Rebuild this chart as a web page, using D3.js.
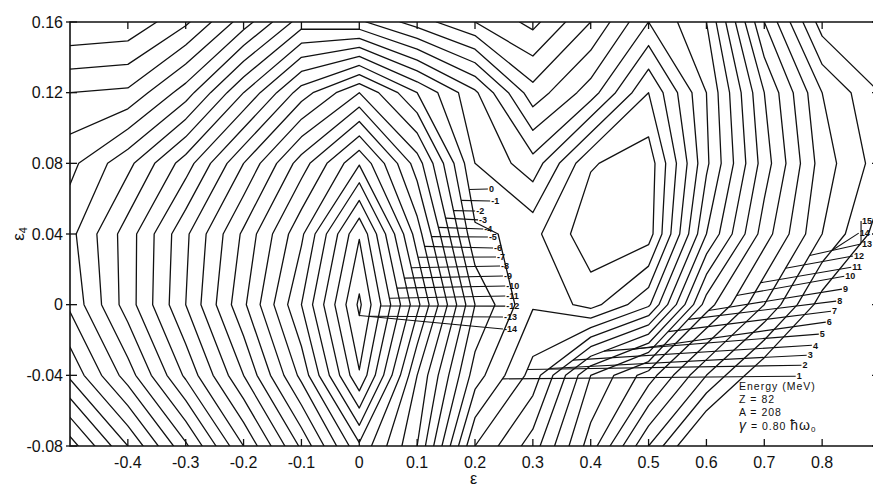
<!DOCTYPE html>
<html>
<head>
<meta charset="utf-8">
<script src="https://cdn.jsdelivr.net/npm/d3@7"></script>
<style>
  body { margin: 0; background: #fff; }
  svg { display: block; }
  text { font-family: "Liberation Sans", Arial, sans-serif; fill: #111; }
</style>
</head>
<body>
<svg id="chart" width="873" height="486"></svg>
<script>
// Deformation grid: quadrupole ε along columns, hexadecapole ε4 along rows
const epsGrid  = [-0.5, -0.4, -0.3, -0.2, -0.1, 0, 0.1, 0.2, 0.3, 0.4, 0.5, 0.6, 0.7, 0.8, 0.9];
const eps4Grid = [0.16, 0.12, 0.08, 0.04, 0, -0.04, -0.08];

// Potential energy (MeV) on each ε4 row, one value per ε column
const energyAtE4_p016 = [11.0, 10.8,  9.2,  6.5,  3.5,   3.8,  5.5,  7.0,  8.3,  6.0,  3.0,  5.0, 11.0, 15.5, 16.5];
const energyAtE4_p012 = [ 8.0,  7.8,  5.5,  2.0, -1.5,  -4.0, -1.0,  1.8,  5.6,  3.5,  0.0,  4.0,  9.0, 13.0, 15.0];
const energyAtE4_p008 = [ 6.3,  4.3,  1.5, -2.0, -5.5,  -8.9, -4.5,  1.0,  2.6, -0.9, -1.6,  3.8,  8.5, 12.5, 14.5];
const energyAtE4_p004 = [ 5.3,  2.5, -0.8, -4.2, -7.8, -12.9, -6.5, -0.2,  0.3, -1.7, -1.5,  5.0,  9.5, 13.0, 15.5];
const energyAtE4_000  = [ 5.8,  2.5, -1.0, -4.8, -9.0, -14.2, -8.3, -2.0,  0.9, -0.4,  1.8,  8.5, 12.0, 15.5, 18.0];
const energyAtE4_m004 = [ 7.8,  4.5,  0.8, -3.0, -7.3, -12.9, -6.0, -0.5,  2.4,  7.0,  9.5, 13.0, 16.0, 19.0, 22.0];
const energyAtE4_m008 = [11.5,  8.0,  4.2,  0.0, -4.2,  -8.8, -5.0,  2.0,  4.5,  8.5, 13.0, 17.0, 20.0, 23.0, 26.0];

// Contour levels (MeV)
const contourLevels = d3.range(-14, 16);

// Axis ticks
const epsTicks  = [-0.4, -0.3, -0.2, -0.1, 0, 0.1, 0.2, 0.3, 0.4, 0.5, 0.6, 0.7, 0.8];
const eps4Ticks = [0.16, 0.12, 0.08, 0.04, 0, -0.04, -0.08];

// Labelled contours near the spherical minimum: level, point near the contour, label position
const innerLabelLevels = [0, -1, -2, -3, -4, -5, -6, -7, -8, -9, -10, -11, -12, -13, -14];
const innerLabelOnEps  = [0.169, 0.160, 0.152, 0.143, 0.140, 0.131, 0.126, 0.117, 0.105, 0.091, 0.074, 0.058, 0.041, 0.024, 0.005];
const innerLabelOnEps4 = [0.064, 0.058, 0.0525, 0.0485, 0.044, 0.039, 0.034, 0.028, 0.022, 0.016, 0.010, 0.004, -0.001, -0.007, -0.012];
const innerLabelEps    = [0.224, 0.228, 0.202, 0.207, 0.216, 0.224, 0.233, 0.238, 0.245, 0.250, 0.254, 0.254, 0.254, 0.250, 0.250];
const innerLabelEps4   = [0.0655, 0.0587, 0.053, 0.048, 0.0428, 0.0383, 0.0321, 0.027, 0.0219, 0.0162, 0.0106, 0.0049, -0.0008, -0.007, -0.0138];

// Labelled contours of the outer slope
const outerLabelLevels = [1, 2, 3, 4, 5, 6, 7, 8, 9, 10, 11, 12, 13, 14, 15];
const outerLabelOnEps  = [0.243, 0.278, 0.312, 0.350, 0.411, 0.454, 0.494, 0.532, 0.568, 0.606, 0.649, 0.698, 0.741, 0.782, 0.822];
const outerLabelOnEps4 = [-0.041, -0.035, -0.029, -0.023, -0.016, -0.010, -0.003, 0.003, 0.009, 0.014, 0.021, 0.028, 0.035, 0.040, 0.047];
const outerLabelEps    = [0.756, 0.766, 0.775, 0.784, 0.796, 0.808, 0.817, 0.826, 0.836, 0.840, 0.852, 0.855, 0.869, 0.865, 0.869];
const outerLabelEps4   = [-0.0405, -0.0343, -0.0286, -0.023, -0.0167, -0.0099, -0.0037, 0.002, 0.0088, 0.0161, 0.0212, 0.0275, 0.0343, 0.0405, 0.0473];

const W = 873, H = 486;
const svg = d3.select("#chart");
const x = d3.scaleLinear().domain([-0.5, 0.9]).range([70, 880]);
const y = d3.scaleLinear().domain([-0.08, 0.16]).range([446, 22]);

svg.append("rect").attr("width", W).attr("height", H).attr("fill", "#fff");

// Contours from the energy grid
const rows = [energyAtE4_p016, energyAtE4_p012, energyAtE4_p008, energyAtE4_p004,
              energyAtE4_000, energyAtE4_m004, energyAtE4_m008];
const nx = epsGrid.length, ny = eps4Grid.length;
const values = rows.flat();
const contours = d3.contours().size([nx, ny]).thresholds(contourLevels)(values);

const dEps = epsGrid[1] - epsGrid[0];
const dEps4 = eps4Grid[1] - eps4Grid[0];
const gridToEps = gx => epsGrid[0] + (gx - 0.5) * dEps;
const gridToEps4 = gy => eps4Grid[0] + (gy - 0.5) * dEps4;

const projection = d3.geoTransform({
  point(gx, gy) { this.stream.point(x(gridToEps(gx)), y(gridToEps4(gy))); }
});
const path = d3.geoPath(projection);

const [x0, x1] = x.range();
const [yb, yt] = y.range();
svg.append("clipPath").attr("id", "plotArea")
  .append("rect").attr("x", x0).attr("y", yt).attr("width", x1 - x0).attr("height", yb - yt);

svg.append("g").attr("clip-path", "url(#plotArea)")
  .selectAll("path").data(contours).join("path")
  .attr("d", path)
  .attr("fill", "none")
  .attr("stroke", "#111")
  .attr("stroke-width", 1.3)
  .attr("stroke-linejoin", "round");

// Frame
svg.append("path").attr("d", `M${x0},${yt}V${yb}H${x1}V${yt}Z`)
  .attr("stroke", "#111").attr("stroke-width", 1.6).attr("fill", "none");

// Inward ticks
const tickLen = 7;
const ticks = svg.append("g").attr("stroke", "#111").attr("stroke-width", 1.3);
epsTicks.forEach(t => {
  ticks.append("line").attr("x1", x(t)).attr("x2", x(t)).attr("y1", yb).attr("y2", yb - tickLen);
  ticks.append("line").attr("x1", x(t)).attr("x2", x(t)).attr("y1", yt).attr("y2", yt + tickLen);
});
eps4Ticks.forEach(t => {
  ticks.append("line").attr("x1", x0 - 4).attr("x2", x0 + tickLen).attr("y1", y(t)).attr("y2", y(t));
  ticks.append("line").attr("x1", x1).attr("x2", x1 - tickLen - 1).attr("y1", y(t)).attr("y2", y(t));
});

// Tick labels
const fmtEps = v => v === 0 ? "0" : (v < 0 ? "-" : "") + Math.abs(v).toFixed(1);
const fmtEps4 = v => v === 0 ? "0" : (v < 0 ? "-" : "") + Math.abs(v).toFixed(2);
svg.append("g").selectAll("text").data(epsTicks).join("text")
  .attr("x", t => x(t)).attr("y", 468)
  .attr("text-anchor", "middle").attr("font-size", 16)
  .text(fmtEps);
svg.append("g").selectAll("text").data(eps4Ticks).join("text")
  .attr("x", 63).attr("y", t => y(t) + 5.5)
  .attr("text-anchor", "end").attr("font-size", 16)
  .text(fmtEps4);

// Axis titles
svg.append("text").attr("x", x(0.2) - 5).attr("y", 484).attr("font-size", 16).text("ε");
svg.append("text").attr("transform", `translate(24,${y(0.04)}) rotate(-90)`)
  .attr("text-anchor", "middle").attr("font-size", 17)
  .html('ε<tspan font-size="11" dy="3">4</tspan>');

// Leader lines from a contour to its label
function nearestOnContour(level, px, py) {
  const c = contours.find(d => d.value === level);
  let best = null, bestD = Infinity;
  if (!c) return [px, py];
  c.coordinates.forEach(poly => poly.forEach(ring => {
    for (let i = 1; i < ring.length; i++) {
      const ax = x(gridToEps(ring[i - 1][0])), ay = y(gridToEps4(ring[i - 1][1]));
      const bx = x(gridToEps(ring[i][0])), by = y(gridToEps4(ring[i][1]));
      if (ax < x0 || ax > x1 || bx < x0 || bx > x1 || ay < yt || ay > yb || by < yt || by > yb) continue;
      const dx = bx - ax, dy = by - ay;
      const L2 = dx * dx + dy * dy;
      let t = L2 ? ((px - ax) * dx + (py - ay) * dy) / L2 : 0;
      t = Math.max(0, Math.min(1, t));
      const qx = ax + t * dx, qy = ay + t * dy;
      const d = Math.hypot(qx - px, qy - py);
      if (d < bestD) { bestD = d; best = [qx, qy]; }
    }
  }));
  return best || [px, py];
}

function drawLabels(levels, onEps, onEps4, labEps, labEps4) {
  const g = svg.append("g");
  levels.forEach((lv, i) => {
    const [sx, sy] = nearestOnContour(lv, x(onEps[i]), y(onEps4[i]));
    const lx = x(labEps[i]), ly = y(labEps4[i]);
    g.append("line").attr("x1", sx).attr("y1", sy).attr("x2", lx - 1).attr("y2", ly)
      .attr("stroke", "#111").attr("stroke-width", 1.1);
    g.append("text").attr("x", lx).attr("y", ly + 3.2)
      .attr("font-size", 9).attr("font-weight", "bold").text(String(lv));
  });
}
drawLabels(innerLabelLevels, innerLabelOnEps, innerLabelOnEps4, innerLabelEps, innerLabelEps4);
drawLabels(outerLabelLevels, outerLabelOnEps, outerLabelOnEps4, outerLabelEps, outerLabelEps4);

// Legend block
const info = svg.append("g").attr("font-size", 10.5).attr("letter-spacing", 1);
info.append("text").attr("x", 739).attr("y", 390).text("Energy (MeV)");
info.append("text").attr("x", 739).attr("y", 403).text("Z = 82");
info.append("text").attr("x", 739).attr("y", 416).text("A = 208");
info.append("text").attr("x", 739).attr("y", 430).html('<tspan font-size="14" font-style="italic">γ</tspan> = 0.80 <tspan font-size="14">ħω</tspan><tspan font-size="8" dy="2">0</tspan>');
</script>
</body>
</html>
